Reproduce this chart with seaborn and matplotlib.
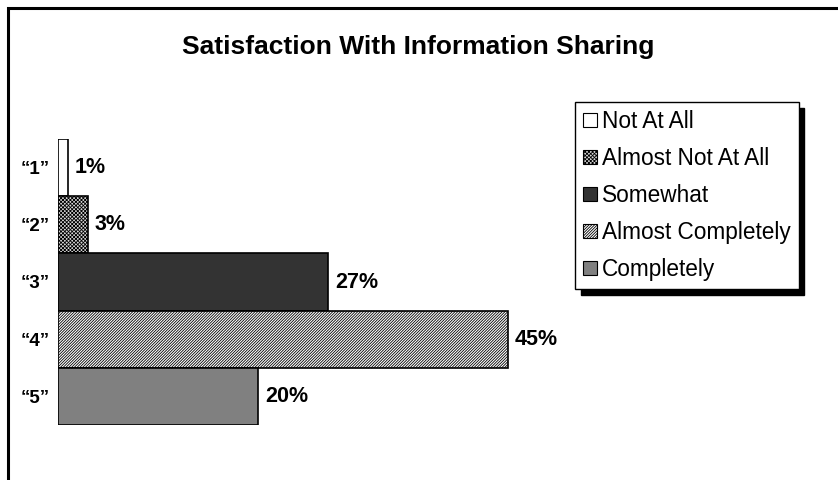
import matplotlib

matplotlib.use("Agg")
import matplotlib.pyplot as plt
import matplotlib.patches as mpatches
import pandas as pd
import seaborn as sns

# data
categories = ["\u201c1\u201d", "\u201c2\u201d", "\u201c3\u201d", "\u201c4\u201d", "\u201c5\u201d"]
legend_labels = ["Not At All", "Almost Not At All", "Somewhat", "Almost Completely", "Completely"]
percentages = [1, 3, 27, 45, 20]

bar_colors = ["#ffffff", "#d8d8d8", "#333333", "#ffffff", "#808080"]
bar_hatches = [None, "xxxxxxxxx", None, "////////////", None]

sns.set_theme(style="white")
plt.rcParams["font.family"] = ["Liberation Sans", "DejaVu Sans"]
plt.rcParams["text.color"] = "black"
plt.rcParams["ytick.color"] = "black"
plt.rcParams["hatch.linewidth"] = 0.6
plt.rcParams["hatch.color"] = "black"

frame = pd.DataFrame({"category": categories, "label": legend_labels, "pct": percentages})

W, H = 838, 480
fig = plt.figure(figsize=(W / 100, H / 100), dpi=100)
ax = fig.add_axes([58 / W, 55 / H, 500 / W, 286 / H])

sns.barplot(
    data=frame,
    x="pct",
    y="category",
    hue="label",
    palette=bar_colors,
    orient="h",
    width=1.0,
    dodge=False,
    legend=False,
    edgecolor="black",
    linewidth=1.2,
    ax=ax,
)

for container, hatch in zip(ax.containers, bar_hatches):
    for bar in container:
        if hatch:
            bar.set_hatch(hatch)
    ax.bar_label(container, fmt="%g%%", padding=5, fontsize=15.5, fontweight="bold",
                 color="black")

ax.set_xlim(0, 50)
ax.set_ylim(4.5, -0.5)
ax.set_xlabel("")
ax.set_ylabel("")
ax.set_xticks([])
for spine in ax.spines.values():
    spine.set_visible(False)
ax.tick_params(axis="y", length=0, pad=6, labelsize=13.5, labelcolor="black")
for tick in ax.get_yticklabels():
    tick.set_fontweight("bold")

fig.text(418 / W, 1 - 47 / H, "Satisfaction With Information Sharing",
         ha="center", va="center", fontsize=19, fontweight="bold", color="black")

handles = [
    mpatches.Patch(facecolor=c, edgecolor="black", hatch=h, linewidth=0.8, label=l)
    for c, h, l in zip(bar_colors, bar_hatches, legend_labels)
]
fig.legend(
    handles=handles,
    loc="upper left",
    bbox_to_anchor=(575 / W, 1 - 102 / H),
    bbox_transform=fig.transFigure,
    borderaxespad=0,
    fontsize=16.3,
    frameon=True,
    fancybox=False,
    edgecolor="black",
    framealpha=1,
    shadow={"color": "black", "alpha": 1.0, "ox": 4, "oy": -4},
    handlelength=0.6,
    handleheight=0.6,
    handletextpad=0.25,
    labelspacing=0.62,
    borderpad=0.35,
)

# outer frame, cropped at the right and bottom like the original
fig.patches.append(
    mpatches.Rectangle((8 / W, -0.2), 1.2, 1.2 - 8 / H, transform=fig.transFigure,
                       fill=False, edgecolor="black", linewidth=2.2, clip_on=False)
)

fig.savefig("out.png", dpi=100)
